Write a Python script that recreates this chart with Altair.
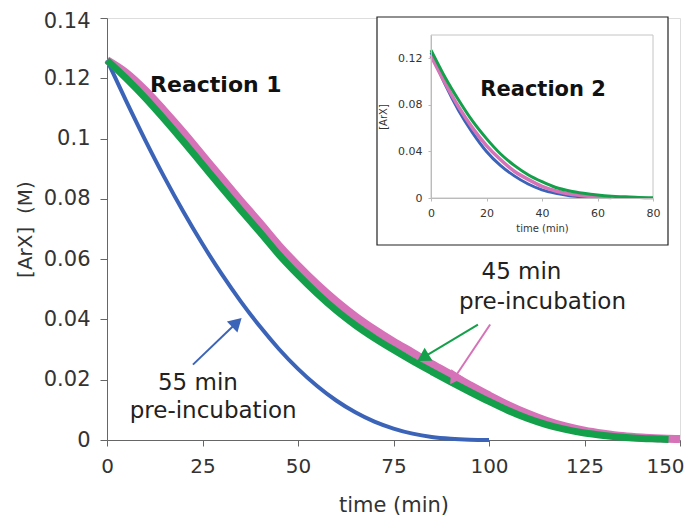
import altair as alt
import pandas as pd

# ---------------- Reaction 1 (main panel) ----------------
t_blue1 = [0, 5, 10, 15, 20, 25, 30, 35, 40, 45, 50, 55, 60, 65, 70, 75, 80, 85, 90, 95, 100]
c_blue1 = [0.126, 0.1125, 0.0995, 0.0872, 0.0757, 0.0650, 0.0551, 0.0460, 0.0377, 0.0302,
           0.0236, 0.0179, 0.0131, 0.0092, 0.0061, 0.0038, 0.0021, 0.0010, 0.0004, 0.0001, 0.0]

t_green1 = [0, 5, 10, 15, 20, 25, 30, 35, 40, 45, 50, 55, 60, 65, 70, 75, 80, 85, 90, 95,
            100, 105, 110, 115, 120, 125, 130, 135, 140, 145, 147]
c_green1 = [0.126, 0.1200, 0.1135, 0.1064, 0.0990, 0.0914, 0.0838, 0.0763, 0.0690, 0.0615,
            0.0548, 0.0486, 0.0430, 0.0381, 0.0338, 0.0299, 0.0262, 0.0227, 0.0193, 0.0160,
            0.0128, 0.0098, 0.0072, 0.0051, 0.0035, 0.0023, 0.0015, 0.0009, 0.0005, 0.0003, 0.0002]

t_pink1 = [0, 5, 10, 15, 20, 25, 30, 35, 40, 45, 50, 55, 60, 65, 70, 75, 80, 85, 90, 95,
           100, 105, 110, 115, 120, 125, 130, 135, 140, 145, 150]
c_pink1 = [0.126, 0.1218, 0.1160, 0.1092, 0.1020, 0.0944, 0.0868, 0.0793, 0.0720, 0.0645,
           0.0578, 0.0516, 0.0460, 0.0410, 0.0366, 0.0326, 0.0290, 0.0252, 0.0217, 0.0182,
           0.0148, 0.0116, 0.0088, 0.0064, 0.0045, 0.0031, 0.0021, 0.0013, 0.0008, 0.0005, 0.0003]

# ---------------- Reaction 2 (inset) ----------------
t_blue2 = [0, 5, 10, 15, 20, 25, 30, 35, 40, 45, 50, 55, 60]
c_blue2 = [0.125, 0.098, 0.075, 0.056, 0.040, 0.028, 0.019, 0.012, 0.007, 0.004, 0.002, 0.001, 0.0005]

t_pink2 = [0, 5, 10, 15, 20, 25, 30, 35, 40, 45, 50, 55, 60, 65]
c_pink2 = [0.122, 0.099, 0.078, 0.060, 0.045, 0.033, 0.023, 0.016, 0.010, 0.006, 0.0035, 0.002, 0.001, 0.0005]

t_green2 = [0, 5, 10, 15, 20, 25, 30, 35, 40, 45, 50, 55, 60, 65, 70, 75, 80]
c_green2 = [0.127, 0.104, 0.084, 0.066, 0.051, 0.038, 0.028, 0.020, 0.014, 0.009, 0.006,
            0.004, 0.0025, 0.0015, 0.001, 0.0005, 0.0003]

x_ticks = [0, 25, 50, 75, 100, 125, 150]
y_ticks = [0, 0.02, 0.04, 0.06, 0.08, 0.1, 0.12, 0.14]
x_ticks_inset = [0, 20, 40, 60, 80]
y_ticks_inset = [0, 0.04, 0.08, 0.12]

BLUE = "#3b64b8"
GREEN = "#14a04a"
PINK = "#d672b8"
FONT = "DejaVu Sans"

# annotation texts (data coordinates of the main panel)
ann_text = ["Reaction 1", "45 min", "pre-incubation", "55 min", "pre-incubation"]
ann_t = [28.5, 108.5, 114.0, 23.8, 27.8]
ann_c = [0.1177, 0.0557, 0.0457, 0.0190, 0.0097]
ann_bold = ["bold", "normal", "normal", "normal", "normal"]

# arrows: start, head position, head angle
arr_t0 = [22.5, 97.1, 100.3]
arr_c0 = [0.025, 0.0383, 0.0383]
arr_t1 = [34.0, 82.7, 90.8]
arr_c1 = [0.039, 0.0273, 0.0203]
arr_ang = [46, 239, 214]
arr_col = [BLUE, GREEN, PINK]

W, H = 573, 422
# inset plot area in main-plot pixel coordinates
IX0, IX1, IY0, IY1 = 324, 546, 180, 17

def series(ts, cs):
    return pd.DataFrame({"t": ts, "c": cs})

# ------------- main layer -------------
mx = alt.X("t:Q", scale=alt.Scale(domain=[0, 150], nice=False, zero=False),
           axis=alt.Axis(values=x_ticks, title="time (min)", grid=False,
                         labelFontSize=20, titleFontSize=21, labelFont=FONT, titleFont=FONT,
                         labelColor="#333", titleColor="#333", titleFontWeight="normal",
                         domainColor="#666", tickColor="#666", tickSize=6,
                         labelPadding=10, titlePadding=18, labelFlush=False,
                         labelOffset={"expr": "datum.value == 150 ? -15 : 0"}))
my = alt.Y("c:Q", scale=alt.Scale(domain=[0, 0.14], nice=False),
           axis=alt.Axis(values=y_ticks, title="[ArX]\u00a0\u00a0(M)", grid=False, format="~g",
                         labelFontSize=21, titleFontSize=20, labelFont=FONT, titleFont=FONT,
                         labelColor="#333", titleColor="#333", titleFontWeight="normal",
                         domainColor="#666", tickColor="#666", tickSize=7,
                         labelPadding=10, titlePadding=8, labelFlush=False,
                         labelOffset={"expr": "datum.value > 0.13 ? 3 : 0"}))

main_blue = alt.Chart(series(t_blue1, c_blue1)).mark_line(
    color=BLUE, strokeWidth=4, interpolate="monotone").encode(x=mx, y=my)
main_pink = alt.Chart(series(t_pink1, c_pink1)).mark_line(
    color=PINK, strokeWidth=8, interpolate="monotone").encode(x=mx, y=my)
main_green = alt.Chart(series(t_green1, c_green1)).mark_line(
    color=GREEN, strokeWidth=7, interpolate="monotone").encode(x=mx, y=my)

ann_df = pd.DataFrame({"t": ann_t, "c": ann_c, "text": ann_text, "w": ann_bold})
ann_norm = alt.Chart(ann_df[ann_df.w == "normal"]).mark_text(
    font=FONT, fontSize=23, color="#222", align="center", baseline="middle"
).encode(x=mx, y=my, text="text:N")
ann_boldc = alt.Chart(ann_df[ann_df.w == "bold"]).mark_text(
    font=FONT, fontSize=22, fontWeight="bold", color="#111", align="center", baseline="middle"
).encode(x=mx, y=my, text="text:N")

arr_df = pd.DataFrame({"t": arr_t0, "c": arr_c0, "t1": arr_t1, "c1": arr_c1,
                       "ang": arr_ang, "col": arr_col})
arr_lines = alt.Chart(arr_df).mark_rule(strokeWidth=2).encode(
    x=mx, y=my, x2="t1:Q", y2="c1:Q", color=alt.Color("col:N", scale=None))
arr_heads = alt.Chart(arr_df).mark_point(shape="triangle-up", filled=True, size=230, opacity=1).encode(
    x=alt.X("t1:Q", scale=alt.Scale(domain=[0, 150], nice=False, zero=False)),
    y=alt.Y("c1:Q", scale=alt.Scale(domain=[0, 0.14], nice=False)),
    angle=alt.Angle("ang:Q", scale=None),
    color=alt.Color("col:N", scale=None))

# inset outer box (white background, black border)
box = alt.Chart(pd.DataFrame({"k": [0]})).mark_rect(fill="white", stroke="#222", strokeWidth=1.2).encode(
    x=alt.value(270), x2=alt.value(561), y=alt.value(-1), y2=alt.value(227))

main_layer = alt.layer(main_blue, main_pink, main_green, ann_norm, ann_boldc,
                       arr_lines, arr_heads, box)

# ------------- inset layer -------------
ix = alt.X("t:Q", scale=alt.Scale(domain=[0, 80], range=[IX0, IX1], nice=False, zero=False),
           axis=alt.Axis(orient="bottom", offset=-(H - IY0), values=x_ticks_inset, title="time (min)",
                         grid=False, labelFontSize=11, titleFontSize=10, labelFont=FONT, titleFont=FONT,
                         labelColor="#333", titleColor="#333", titleFontWeight="normal",
                         domainColor="#bbb", tickColor="#bbb", tickSize=3, zindex=2,
                         labelPadding=6, titlePadding=5, labelFlush=False))
iy = alt.Y("c:Q", scale=alt.Scale(domain=[0, 0.14], range=[IY0, IY1], nice=False),
           axis=alt.Axis(orient="left", offset=-IX0, values=y_ticks_inset, title="[ArX]",
                         labelExpr="format(datum.value, '.2~f')",
                         grid=False, labelFontSize=11, titleFontSize=10, labelFont=FONT, titleFont=FONT,
                         labelColor="#333", titleColor="#333", titleFontWeight="normal",
                         domainColor="#bbb", tickColor="#bbb", tickSize=3, zindex=2,
                         labelPadding=6, titlePadding=9, labelFlush=False, labelOverlap=False))

inset_frame = alt.Chart(pd.DataFrame({"k": [0]})).mark_rect(fill="white", fillOpacity=0, stroke="#c4c4c4", strokeWidth=1).encode(
    x=alt.value(IX0), x2=alt.value(IX1), y=alt.value(IY1), y2=alt.value(IY0))
in_blue = alt.Chart(series(t_blue2, c_blue2)).mark_line(
    color=BLUE, strokeWidth=3, interpolate="monotone").encode(x=ix, y=iy)
in_pink = alt.Chart(series(t_pink2, c_pink2)).mark_line(
    color=PINK, strokeWidth=3.5, interpolate="monotone").encode(x=ix, y=iy)
in_green = alt.Chart(series(t_green2, c_green2)).mark_line(
    color=GREEN, strokeWidth=3, interpolate="monotone").encode(x=ix, y=iy)
in_text = alt.Chart(pd.DataFrame({"t": [40.4], "c": [0.0926], "text": ["Reaction 2"]})).mark_text(
    font=FONT, fontSize=21, fontWeight="bold", color="#111", align="center", baseline="middle"
).encode(x=ix, y=iy, text="text:N")

inset_layer = alt.layer(inset_frame, in_blue, in_pink, in_green, in_text)

chart = alt.layer(main_layer, inset_layer).resolve_scale(
    x="independent", y="independent"
).properties(
    width=W, height=H,
    autosize=alt.AutoSizeParams(type="none"),
    padding={"left": 99, "top": 10, "right": 4, "bottom": 75},
).configure_view(stroke="#222", strokeWidth=1.2).configure(background="white")

chart.save("out.html", embed_options={"renderer": "svg", "actions": False})
